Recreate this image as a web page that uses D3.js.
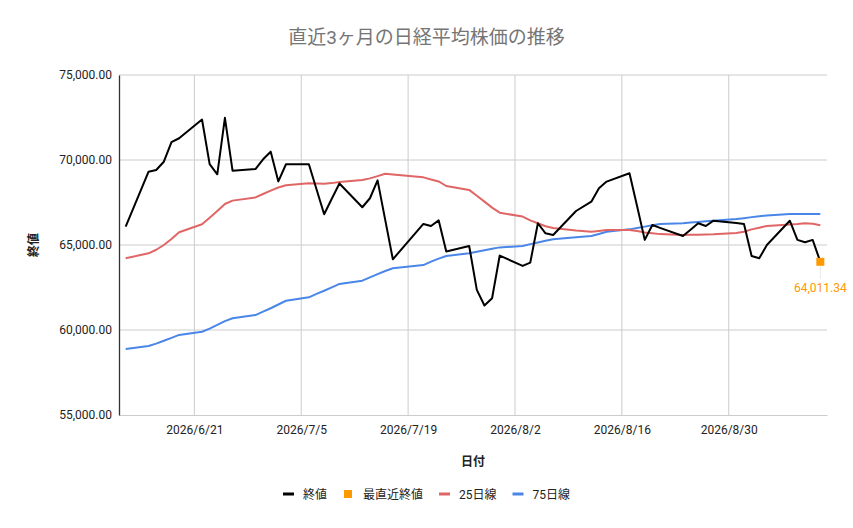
<!DOCTYPE html>
<html>
<head>
<meta charset="utf-8">
<script src="https://cdn.jsdelivr.net/npm/d3@7"></script>
<style>
  body { margin: 0; background: #fff; }
  text { font-family: Roboto, "Noto Sans CJK JP", sans-serif; }
</style>
</head>
<body>
<div class="chart"></div>
<script>
var svgWidth = 853;
var svgHeight = 528;

var margin = { top: 75, right: 26, bottom: 113, left: 119 };
var width = svgWidth - margin.left - margin.right;
var height = svgHeight - margin.top - margin.bottom;

// trading days (weekends and 7/20, 8/11 skipped)
var dates = [
  "2026-06-12", "2026-06-15", "2026-06-16", "2026-06-17", "2026-06-18", "2026-06-19",
  "2026-06-22", "2026-06-23", "2026-06-24", "2026-06-25", "2026-06-26", "2026-06-29",
  "2026-06-30", "2026-07-01", "2026-07-02", "2026-07-03", "2026-07-06", "2026-07-07",
  "2026-07-08", "2026-07-09", "2026-07-10", "2026-07-13", "2026-07-14", "2026-07-15",
  "2026-07-16", "2026-07-17", "2026-07-21", "2026-07-22", "2026-07-23", "2026-07-24",
  "2026-07-27", "2026-07-28", "2026-07-29", "2026-07-30", "2026-07-31", "2026-08-03",
  "2026-08-04", "2026-08-05", "2026-08-06", "2026-08-07", "2026-08-10", "2026-08-12",
  "2026-08-13", "2026-08-14", "2026-08-17", "2026-08-18", "2026-08-19", "2026-08-20",
  "2026-08-21", "2026-08-24", "2026-08-25", "2026-08-26", "2026-08-27", "2026-08-28",
  "2026-08-31", "2026-09-01", "2026-09-02", "2026-09-03", "2026-09-04", "2026-09-07",
  "2026-09-08", "2026-09-09", "2026-09-10", "2026-09-11"
];

var closes = [
  66080, 69310, 69410, 69900, 71050, 71280,
  72380, 69760, 69160, 72480, 69370, 69470,
  70040, 70490, 68740, 69750, 69750, 68280,
  66810, 67720, 68620, 67220, 67750, 68800,
  66480, 64160, 66240, 66120, 66450, 64620,
  64940, 62360, 61440, 61870, 64380, 63770,
  63960, 66280, 65690, 65590, 67000, 67550,
  68340, 68730, 69220, 67280, 65300, 66180,
  66010, 65530, 65900, 66280, 66120, 66430,
  66300, 66240, 64350, 64220, 65000, 66430,
  65300, 65160, 65300, 64011.34
];

var ma25 = [
  64220, 64510, 64720, 65000, 65350, 65750,
  66220, 66600, 67000, 67410, 67610, 67800,
  68000, 68200, 68380, 68510, 68630, 68620,
  68600, 68640, 68700, 68820, 68920, 69050,
  69190, 69150, 68980, 68850, 68740, 68470,
  68240, 67900, 67550, 67200, 66900, 66670,
  66450, 66280, 66100, 66000, 65850, 65780,
  65830, 65880, 65880, 65820, 65740, 65690,
  65640, 65590, 65600, 65610, 65620, 65630,
  65700, 65780, 65920, 66020, 66120, 66200,
  66230, 66280, 66250, 66160
];

var ma75 = [
  58880, 59060, 59200, 59370, 59540, 59710,
  59900, 60080, 60300, 60520, 60690, 60880,
  61080, 61280, 61500, 61720, 61920, 62120,
  62310, 62510, 62710, 62900, 63100, 63290,
  63470, 63630, 63820, 64020, 64200, 64350,
  64510, 64600, 64690, 64780, 64860, 64940,
  65050, 65150, 65250, 65340, 65450, 65530,
  65650, 65780, 65920, 66000, 66080, 66160,
  66230, 66280, 66320, 66360, 66400, 66430,
  66530, 66580, 66640, 66690, 66730, 66820,
  66830, 66830, 66830, 66820
];

var xTicks = ["2026-06-21", "2026-07-05", "2026-07-19", "2026-08-02", "2026-08-16", "2026-08-30"];
var yTicks = [55000, 60000, 65000, 70000, 75000];

var parseDate = d3.utcParse("%Y-%m-%d");
var days = dates.map(parseDate);

var svg = d3.select(".chart")
  .append("svg")
  .attr("width", svgWidth)
  .attr("height", svgHeight);

var chartGroup = svg.append("g")
  .attr("transform", `translate(${margin.left}, ${margin.top})`);

// Create scale functions
var xTimeScale = d3.scaleUtc()
  .domain([d3.utcHour.offset(days[0], -21), d3.utcHour.offset(days[days.length - 1], 21)])
  .range([0, width]);

var yLinearScale = d3.scaleLinear()
  .domain([55000, 75000])
  .range([height, 0]);

// gridlines
chartGroup.append("g")
  .selectAll("line")
  .data(yTicks.slice(1))
  .enter()
  .append("line")
  .attr("x1", 0)
  .attr("x2", width)
  .attr("y1", d => yLinearScale(d))
  .attr("y2", d => yLinearScale(d))
  .attr("stroke", "#cccccc");

chartGroup.append("g")
  .selectAll("line")
  .data(xTicks.map(parseDate))
  .enter()
  .append("line")
  .attr("x1", d => xTimeScale(d))
  .attr("x2", d => xTimeScale(d))
  .attr("y1", 0)
  .attr("y2", height)
  .attr("stroke", "#cccccc");

// Create axis functions
var bottomAxis = d3.axisBottom(xTimeScale)
  .tickValues(xTicks.map(parseDate))
  .tickFormat(d3.utcFormat("%Y/%-m/%-d"))
  .tickSize(0)
  .tickPadding(10);

var leftAxis = d3.axisLeft(yLinearScale)
  .tickValues(yTicks)
  .tickFormat(d3.format(",.2f"))
  .tickSize(0)
  .tickPadding(7);

var xAxisGroup = chartGroup.append("g")
  .attr("transform", `translate(0, ${height})`)
  .call(bottomAxis);
xAxisGroup.select(".domain").attr("stroke", "#cccccc");

var yAxisGroup = chartGroup.append("g")
  .call(leftAxis);
yAxisGroup.select(".domain").attr("stroke", "#333333").attr("stroke-width", 1.3);

chartGroup.selectAll(".tick text")
  .attr("font-size", 12)
  .attr("fill", "#222222")
  .style("font-family", "Roboto, 'Noto Sans CJK JP', sans-serif");

// Create lines
var series = [
  { values: ma75, color: "#4a86e8" },
  { values: ma25, color: "#e06666" },
  { values: closes, color: "#000000" }
];

var lineGen = d3.line()
  .x((d, i) => xTimeScale(days[i]))
  .y(d => yLinearScale(d));

series.forEach(function(s) {
  chartGroup.append("path")
    .datum(s.values)
    .attr("fill", "none")
    .attr("stroke", s.color)
    .attr("stroke-width", 2)
    .attr("stroke-linejoin", "round")
    .attr("d", lineGen);
});

// latest close marker
var lastDay = days[days.length - 1];
var lastClose = closes[closes.length - 1];
var lx = xTimeScale(lastDay);
var ly = yLinearScale(lastClose);

chartGroup.append("line")
  .attr("x1", lx)
  .attr("x2", lx)
  .attr("y1", ly + 5)
  .attr("y2", ly + 17)
  .attr("stroke", "#e8e8e8");

chartGroup.append("rect")
  .attr("x", lx - 4)
  .attr("y", ly - 4)
  .attr("width", 8)
  .attr("height", 8)
  .attr("fill", "#ff9900");

chartGroup.append("text")
  .attr("x", lx)
  .attr("y", ly + 30)
  .attr("text-anchor", "middle")
  .attr("font-size", 12)
  .attr("fill", "#ff9900")
  .text(d3.format(",.2f")(lastClose));

// Title and axis titles
svg.append("text")
  .attr("x", svgWidth / 2)
  .attr("y", 44)
  .attr("text-anchor", "middle")
  .attr("font-size", 19)
  .attr("fill", "#757575")
  .text("直近3ヶ月の日経平均株価の推移");

svg.append("text")
  .attr("x", margin.left + width / 2)
  .attr("y", 466)
  .attr("text-anchor", "middle")
  .attr("font-size", 12)
  .attr("font-weight", "bold")
  .attr("fill", "#222222")
  .text("日付");

svg.append("text")
  .attr("transform", `translate(38, ${margin.top + height / 2}) rotate(-90)`)
  .attr("text-anchor", "middle")
  .attr("font-size", 12)
  .attr("font-weight", "bold")
  .attr("fill", "#222222")
  .text("終値");

// Legend
var legendItems = [
  { label: "終値", color: "#000000", type: "line" },
  { label: "最直近終値", color: "#ff9900", type: "square" },
  { label: "25日線", color: "#e06666", type: "line" },
  { label: "75日線", color: "#4a86e8", type: "line" }
];

var legend = svg.append("g");
var cursor = 0;
legendItems.forEach(function(item) {
  var g = legend.append("g").attr("transform", `translate(${cursor}, 0)`);
  if (item.type === "line") {
    g.append("rect").attr("x", 0).attr("y", -1.5).attr("width", 11).attr("height", 3).attr("fill", item.color);
  } else {
    g.append("rect").attr("x", 1).attr("y", -4).attr("width", 8).attr("height", 8).attr("fill", item.color);
  }
  var t = g.append("text")
    .attr("x", 20)
    .attr("y", 4.5)
    .attr("font-size", 12)
    .attr("fill", "#222222")
    .text(item.label);
  cursor += 20 + t.node().getComputedTextLength() + 16;
});
cursor -= 16;
legend.attr("transform", `translate(${(svgWidth - cursor) / 2}, 494)`);
</script>
</body>
</html>
